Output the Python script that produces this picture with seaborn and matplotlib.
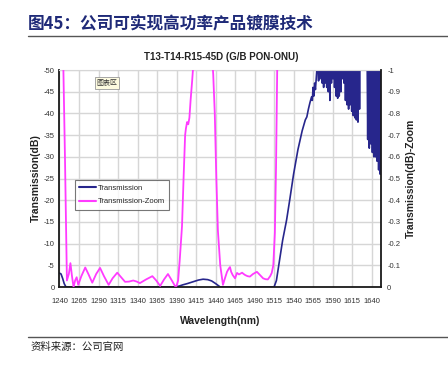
import numpy as np
import pandas as pd
import seaborn as sns
import matplotlib.pyplot as plt
from matplotlib import font_manager
from matplotlib.lines import Line2D
from matplotlib.ticker import FuncFormatter

# Transmission (dB), left axis
wl_trans = [1240, 1242, 1244, 1246, 1248, 1250, 1260, 1280, 1300, 1330, 1360, 1388,
            1393, 1398, 1404, 1411, 1418, 1424, 1430, 1435, 1440, 1443, 1446, 1480,
            1515, 1518, 1521, 1524, 1526, 1531, 1535, 1540, 1545.5, 1551, 1555, 1557,
            1559, 1561, 1563, 1564, 1565, 1566, 1567, 1568, 1569, 1570,
            1571, 1572, 1573, 1574, 1575.5, 1576.5, 1577.5, 1578.5, 1579.5, 1580.5,
            1581.5, 1582.5, 1583.5, 1584.5, 1585.5, 1586.5, 1587.5, 1588.5, 1589.5,
            1590.5, 1591.5, 1592.5, 1593.5, 1594.5, 1595.5, 1596.5, 1597.5, 1598.5,
            1599.5, 1600.5, 1601.5, 1602.5, 1603.5, 1604.5, 1605.5, 1606.5, 1607.5,
            1608.5, 1609.5, 1610.5, 1611.5, 1612.5, 1613.5, 1614.5, 1615.5, 1616.5,
            1617.5, 1618.5, 1619.5, 1620.5, 1621.5, 1622.5, 1623.5, 1624.5, 1625.5,
            1634, 1635, 1636, 1637, 1638, 1639, 1640, 1641, 1642, 1643, 1644, 1645,
            1646, 1647, 1648, 1649, 1650, 1651, 1652]
trans_db = [-3.2, -3.0, -2.0, -0.8, -0.1, 0, -0.05, 0, 0, 0, 0, 0,
            -0.2, -0.5, -0.8, -1.2, -1.6, -1.8, -1.7, -1.4, -0.8, -0.4, 0, 0,
            0, -1.5, -5, -8.5, -10.8, -15.4, -20, -26, -31.6, -36, -38.5, -39.2,
            -41, -42.5, -43.8, -43, -46, -44, -47, -45.5, -48, -50.5,
            -60, -47.5, -60, -48, -60, -47, -60, -46, -60, -47,
            -60, -46, -60, -45, -60, -43, -60, -47, -60,
            -48, -60, -46, -60, -44, -60, -43.5, -60, -44,
            -60, -45, -60, -48, -60, -47, -60, -43, -60,
            -42, -60, -41, -60, -42, -60, -40.5, -60, -39.5,
            -60, -39, -60, -38.5, -60, -38, -60, -41, -60,
            -60, -34, -60, -32, -60, -33, -60, -31, -60, -30, -60, -30,
            -60, -29, -60, -27, -60, -26, -60]

# Transmission-Zoom (dB), right axis
wl_zoom = [1240, 1244, 1245, 1247, 1249.5, 1252, 1254, 1256, 1258, 1260, 1262, 1264,
           1268, 1273, 1277, 1282, 1287, 1292, 1297, 1303, 1308, 1314, 1319, 1324,
           1329, 1334.5, 1339, 1343, 1351, 1359, 1364, 1369, 1374, 1379, 1384, 1388,
           1390, 1392, 1394, 1397, 1399, 1401, 1402, 1403.5, 1405, 1406.5, 1408, 1410,
           1412, 1414, 1425, 1434, 1437, 1439, 1441, 1443, 1446, 1449.5, 1452, 1454.7,
           1457, 1458.5, 1460, 1462, 1465, 1467.5, 1470, 1472, 1474, 1476, 1478, 1481,
           1484, 1488, 1493, 1497, 1501, 1504, 1507, 1510, 1512, 1514, 1516, 1517.5,
           1519, 1521, 1525]
zoom_db = [-3.0, -1.6, -1.0, -0.6, -0.03, -0.06, -0.11, -0.05, 0, -0.03, -0.045, -0.01,
           -0.05, -0.09, -0.06, -0.02, -0.06, -0.088, -0.05, -0.01, -0.04, -0.066, -0.045, -0.024,
           -0.025, -0.03, -0.025, -0.018, -0.035, -0.05, -0.03, -0.005, -0.035, -0.06, -0.03, -0.005,
           -0.005, -0.03, -0.12, -0.28, -0.5, -0.70, -0.73, -0.76, -0.75, -0.78, -0.86, -0.95,
           -1.05, -1.2, -1.5, -1.15, -0.98, -0.8, -0.5, -0.26, -0.1, -0.01, -0.04, -0.07,
           -0.085, -0.092, -0.07, -0.055, -0.04, -0.065, -0.058, -0.062, -0.066, -0.06, -0.055, -0.05,
           -0.048, -0.06, -0.07, -0.055, -0.04, -0.036, -0.035, -0.05, -0.065, -0.1, -0.25, -0.55,
           -1.0, -1.4, -2.0]

x_ticks = list(range(1240, 1641, 25))
left_ticks = [-50, -45, -40, -35, -30, -25, -20, -15, -10, -5, 0]
right_ticks = [-1, -0.9, -0.8, -0.7, -0.6, -0.5, -0.4, -0.3, -0.2, -0.1, 0]

blue = '#27268c'
magenta = '#ff3bff'

sns.set_style("white")
names = {f.name for f in font_manager.fontManager.ttflist}
latin = 'Liberation Sans Narrow' if 'Liberation Sans Narrow' in names else 'Liberation Sans'
plt.rcParams['font.family'] = [latin, 'DejaVu Sans']
cjk = ['Noto Sans CJK SC', 'DejaVu Sans']

fig = plt.figure(figsize=(4.48, 3.66), dpi=100)
ax = fig.add_axes([0.1328, 0.2158, 0.8504 - 0.1328, 0.8087 - 0.2158])
ax2 = ax.twinx()

df_t = pd.DataFrame({'wl': wl_trans, 'db': trans_db})
df_z = pd.DataFrame({'wl': wl_zoom, 'db': zoom_db})
sns.lineplot(data=df_t, x='wl', y='db', ax=ax, color=blue, lw=1.2, legend=False)
sns.lineplot(data=df_z, x='wl', y='db', ax=ax2, color=magenta, lw=1.3, legend=False)

ax.set_xlim(1240, 1652)
ax.set_ylim(0, -50)
ax2.set_ylim(0, -1)
ax.set_xticks(x_ticks)
ax.set_yticks(left_ticks)
ax2.set_yticks(right_ticks)
fmt = FuncFormatter(lambda v, p: f"{v:g}")
ax.yaxis.set_major_formatter(fmt)
ax2.yaxis.set_major_formatter(fmt)

ax.grid(True, color='#d6d6d6', lw=1.0)
ax.set_axisbelow(True)
ax.tick_params(axis='x', direction='in', length=2.5, width=0.8, pad=8, labelsize=5.5, colors='#333333')
ax.tick_params(axis='y', direction='in', length=0, pad=3.5, labelsize=5.5, colors='#333333')
ax2.tick_params(axis='y', direction='in', length=0, pad=4.5, labelsize=5.5, colors='#333333')

for s in ['left', 'bottom']:
    ax.spines[s].set_color('#1a1a1a')
    ax.spines[s].set_linewidth(1.3)
ax.spines['top'].set_color('#d6d6d6')
ax.spines['right'].set_visible(False)
for s in ['left', 'bottom', 'top']:
    ax2.spines[s].set_visible(False)
ax2.spines['right'].set_color('#1a1a1a')
ax2.spines['right'].set_linewidth(1.3)

ax.set_xlabel('Wavelength(nm)', fontsize=7.5, fontweight='bold', color='#222222', labelpad=8)
ax.set_ylabel('Transmission(dB)', fontsize=7.5, fontweight='bold', color='#222222', labelpad=2)
ax2.set_ylabel('Transmission(dB)-Zoom', fontsize=7.5, fontweight='bold', color='#222222', labelpad=4)

handles = [Line2D([], [], color=blue, lw=1.5), Line2D([], [], color=magenta, lw=1.5)]
leg = ax2.legend(handles, ['Transmission', 'Transmission-Zoom'], loc='upper left',
                 bbox_to_anchor=(0.047, 0.493), borderaxespad=0, fontsize=5.5, frameon=True,
                 fancybox=False, edgecolor='#555555', borderpad=0.6, handlelength=2.2,
                 handletextpad=0.2, labelspacing=0.8)
leg.get_frame().set_linewidth(0.8)

ax2.text(0.147, 0.94, '图表区', transform=ax2.transAxes, fontsize=5, family=cjk,
         ha='center', va='center', color='#333333',
         bbox=dict(boxstyle='square,pad=0.25', fc='#fdfbe0', ec='#999999', lw=0.6))

fig.text(0.493, 0.844, 'T13-T14-R15-45D (G/B PON-ONU)', fontsize=7, fontweight='bold',
         ha='center', va='center', color='#222222')

fig.text(0.063, 0.934, '图45：公司可实现高功率产品镀膜技术', fontsize=12, fontweight='bold',
         family=cjk, color='#1f2a78', ha='left', va='center')
fig.add_artist(Line2D([0.063, 1.0], [0.902, 0.902], transform=fig.transFigure, color='#555555', lw=1.0))
fig.add_artist(Line2D([0.063, 1.0], [0.079, 0.079], transform=fig.transFigure, color='#555555', lw=1.0))
fig.text(0.067, 0.053, '资料来源：公司官网', fontsize=7.5, family=cjk, color='#222222',
         ha='left', va='center')

fig.savefig('out.png', dpi=100)
